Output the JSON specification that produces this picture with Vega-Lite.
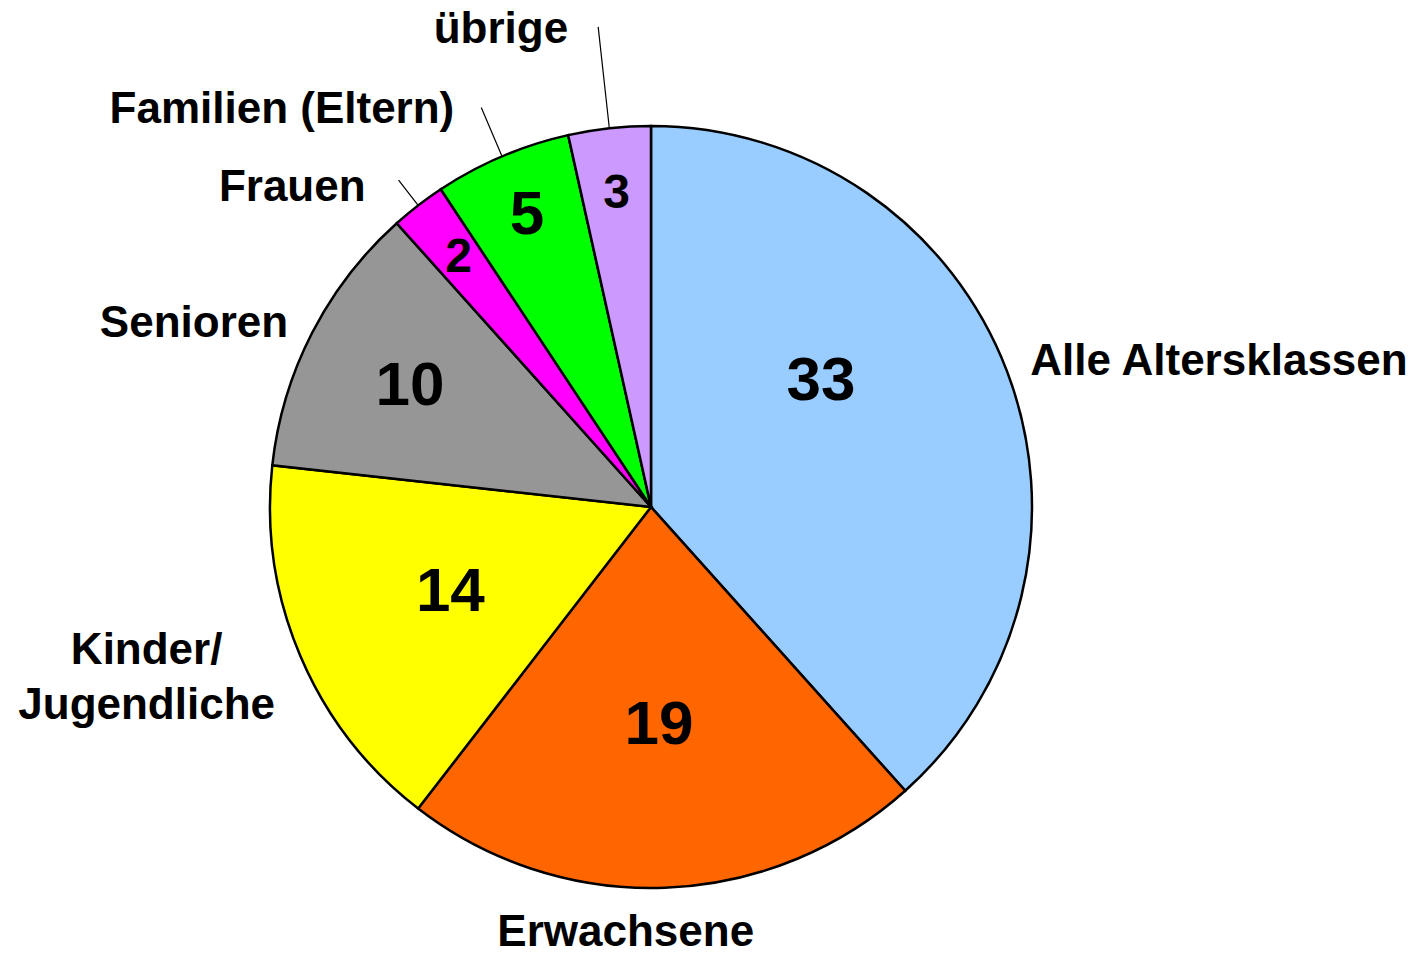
{
  "$schema": "https://vega.github.io/schema/vega-lite/v6.json",
  "width": 1000,
  "height": 900,
  "autosize": {"type": "none"},
  "padding": {"left": 151, "top": 57, "right": 269, "bottom": 2},
  "background": "white",
  "config": {
    "view": {"stroke": null},
    "text": {"font": "Liberation Sans", "fontWeight": "bold", "color": "black"}
  },
  "data": {
    "values": [
      {"cat": "Alle Altersklassen", "label": "Alle Altersklassen", "value": 33, "rank": 1},
      {"cat": "Erwachsene", "label": "Erwachsene", "value": 19, "rank": 2},
      {"cat": "Kinder/Jugendliche", "label": "Kinder/\nJugendliche", "value": 14, "rank": 3},
      {"cat": "Senioren", "label": "Senioren", "value": 10, "rank": 4},
      {"cat": "Frauen", "label": "Frauen", "value": 2, "rank": 5},
      {"cat": "Familien (Eltern)", "label": "Familien (Eltern)", "value": 5, "rank": 6},
      {"cat": "übrige", "label": "übrige", "value": 3, "rank": 7}
    ]
  },
  "encoding": {
    "theta": {"field": "value", "type": "quantitative", "stack": true},
    "order": {"field": "rank", "type": "quantitative"},
    "detail": {"field": "cat", "type": "nominal"}
  },
  "layer": [
    {
      "mark": {"type": "arc", "outerRadius": 381, "stroke": "black", "strokeWidth": 2.5},
      "encoding": {
        "color": {
          "field": "cat",
          "type": "nominal",
          "legend": null,
          "scale": {
            "domain": ["Alle Altersklassen", "Erwachsene", "Kinder/Jugendliche", "Senioren", "Frauen", "Familien (Eltern)", "übrige"],
            "range": ["#99CCFF", "#FF6600", "#FFFF00", "#969696", "#FF00FF", "#00FF00", "#CC99FF"]
          }
        }
      }
    },
    {
      "mark": {"type": "arc", "outerRadius": 413, "innerRadius": 381, "padAngle": 0.6, "fill": "transparent", "strokeWidth": 1.2},
      "encoding": {"stroke": {"condition": {"test": "datum.cat === 'Frauen'", "value": "black"}, "value": "transparent"}}
    },
    {
      "mark": {"type": "arc", "outerRadius": 434, "innerRadius": 381, "padAngle": 0.6, "fill": "transparent", "strokeWidth": 1.2},
      "encoding": {"stroke": {"condition": {"test": "datum.cat === 'Familien (Eltern)'", "value": "black"}, "value": "transparent"}}
    },
    {
      "mark": {"type": "arc", "outerRadius": 483, "innerRadius": 381, "padAngle": 0.6, "fill": "transparent", "strokeWidth": 1.2},
      "encoding": {"stroke": {"condition": {"test": "datum.cat === 'übrige'", "value": "black"}, "value": "transparent"}}
    },
    {
      "mark": {"type": "text", "radius": 213, "fontSize": 62, "dx": -29, "dy": -50},
      "encoding": {"text": {"condition": {"test": "datum.cat === 'Alle Altersklassen'", "field": "value", "type": "quantitative"}, "value": ""}}
    },
    {
      "mark": {"type": "text", "radius": 218, "fontSize": 62},
      "encoding": {"text": {"condition": {"test": "datum.cat === 'Erwachsene' || datum.cat === 'Kinder/Jugendliche'", "field": "value", "type": "quantitative"}, "value": ""}}
    },
    {
      "mark": {"type": "text", "radius": 271, "fontSize": 62, "dy": 3},
      "encoding": {"text": {"condition": {"test": "datum.cat === 'Senioren'", "field": "value", "type": "quantitative"}, "value": ""}}
    },
    {
      "mark": {"type": "text", "radius": 317, "fontSize": 62},
      "encoding": {"text": {"condition": {"test": "datum.cat === 'Familien (Eltern)'", "field": "value", "type": "quantitative"}, "value": ""}}
    },
    {
      "mark": {"type": "text", "radius": 315, "fontSize": 48},
      "encoding": {"text": {"condition": {"test": "datum.cat === 'Frauen' || datum.cat === 'übrige'", "field": "value", "type": "quantitative"}, "value": ""}}
    },
    {
      "mark": {"type": "text", "radius": 406, "fontSize": 44, "align": "left"},
      "encoding": {"text": {"condition": {"test": "datum.cat === 'Alle Altersklassen'", "field": "label", "type": "nominal"}, "value": ""}}
    },
    {
      "mark": {"type": "text", "radius": 430, "fontSize": 44, "align": "center", "dx": -41, "dy": -4},
      "encoding": {"text": {"condition": {"test": "datum.cat === 'Erwachsene'", "field": "label", "type": "nominal"}, "value": ""}}
    },
    {
      "mark": {"type": "text", "radius": 435, "fontSize": 44, "align": "center", "dx": -104, "dy": -26, "lineBreak": "\n", "lineHeight": 55},
      "encoding": {"text": {"condition": {"test": "datum.cat === 'Kinder/Jugendliche'", "field": "label", "type": "nominal"}, "value": ""}}
    },
    {
      "mark": {"type": "text", "radius": 408, "fontSize": 44, "align": "right", "dy": 4},
      "encoding": {"text": {"condition": {"test": "datum.cat === 'Senioren'", "field": "label", "type": "nominal"}, "value": ""}}
    },
    {
      "mark": {"type": "text", "radius": 413, "fontSize": 44, "align": "right", "dx": -33, "dy": 8},
      "encoding": {"text": {"condition": {"test": "datum.cat === 'Frauen'", "field": "label", "type": "nominal"}, "value": ""}}
    },
    {
      "mark": {"type": "text", "radius": 434, "fontSize": 44, "align": "right", "dx": -27, "dy": 2},
      "encoding": {"text": {"condition": {"test": "datum.cat === 'Familien (Eltern)'", "field": "label", "type": "nominal"}, "value": ""}}
    },
    {
      "mark": {"type": "text", "radius": 483, "fontSize": 44, "align": "right", "dx": -30, "dy": 3},
      "encoding": {"text": {"condition": {"test": "datum.cat === 'übrige'", "field": "label", "type": "nominal"}, "value": ""}}
    }
  ]
}
